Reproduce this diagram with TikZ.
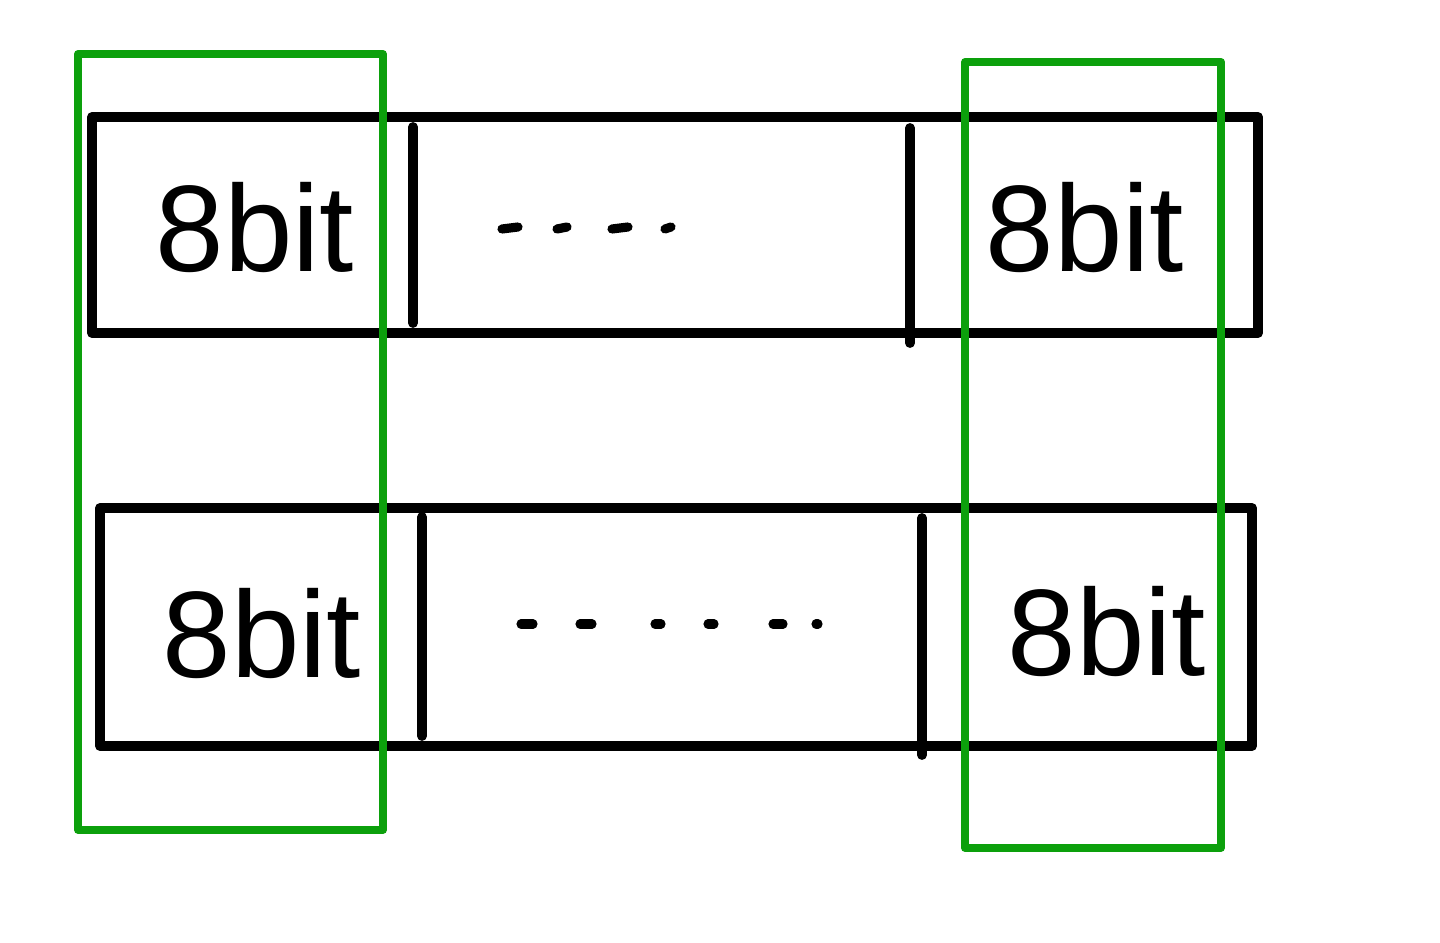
\documentclass[tikz,border=0pt]{standalone}
\usepackage{fontspec}
\setmainfont{Liberation Sans}
\usetikzlibrary{positioning}
\definecolor{Ink}{HTML}{000000}
\definecolor{Leaf}{HTML}{0CA00C}
\tikzset{
  bar/.style={draw=Ink,line width=2.8pt,line join=round,line cap=round},
  group/.style={draw=Leaf,line width=2.2pt,line join=round},
  bits/.style={font=\fontsize{35}{35}\selectfont,text=Ink,inner sep=0pt}
}

\begin{document}
\begin{tikzpicture}[x=0.01cm,y=-0.01cm]
  \useasboundingbox (0,0) rectangle (1440,943);
  % upper word
  \draw[bar] (92,117) rectangle (1258,333);
  \draw[bar] (413,127) -- (413,323);
  \draw[bar] (910,128) -- (910,343);
  \node[bits] (upLow) at (255,228) {8bit};
  \node[bits] (upHigh) at (1085,228) {8bit};
  \foreach \x/\w in {510/8,562/5,620/8,668/3}
    \draw[bar,line width=2.6pt] (\x-\w,229) -- (\x+\w,227);
  % lower word
  \draw[bar] (100,508) rectangle (1252,746);
  \draw[bar] (422,517) -- (422,736);
  \draw[bar] (922,518) -- (922,755);
  \node[bits] (downLow) at (262,634) {8bit};
  \node[bits] (downHigh) at (1107,632) {8bit};
  \foreach \x/\w in {527/6,586/6,658/3,711/3,778/5,817/1}
    \draw[bar,line width=2.6pt] (\x-\w,624) -- (\x+\w,624);
  % byte columns
  \draw[group] (78,54) rectangle (383,830);
  \draw[group] (965,62) rectangle (1221,848);
\end{tikzpicture}
\end{document}
